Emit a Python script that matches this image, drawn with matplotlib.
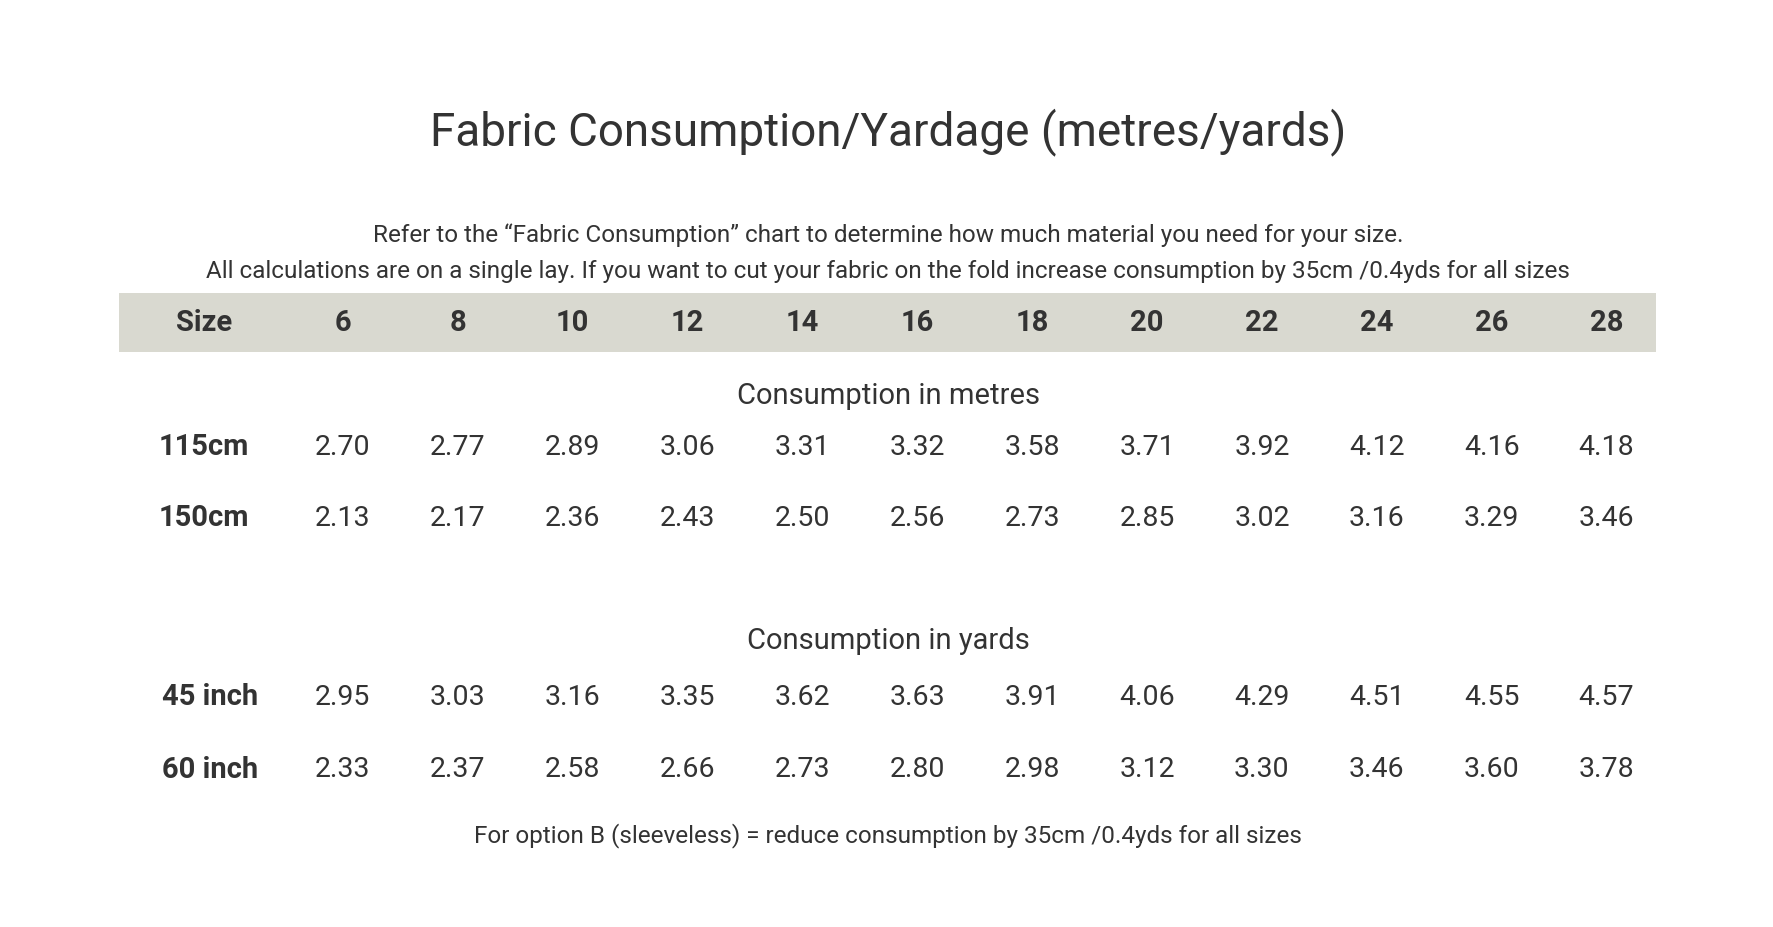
import matplotlib
matplotlib.use("Agg")
import matplotlib.pyplot as plt
from matplotlib.patches import Rectangle

sizes = ["6","8","10","12","14","16","18","20","22","24","26","28"]
metre_rows = ["115cm", "150cm"]
metres_115 = [2.70,2.77,2.89,3.06,3.31,3.32,3.58,3.71,3.92,4.12,4.16,4.18]
metres_150 = [2.13,2.17,2.36,2.43,2.50,2.56,2.73,2.85,3.02,3.16,3.29,3.46]
yard_rows = ["45 inch", "60 inch"]
yards_45 = [2.95,3.03,3.16,3.35,3.62,3.63,3.91,4.06,4.29,4.51,4.55,4.57]
yards_60 = [2.33,2.37,2.58,2.66,2.73,2.80,2.98,3.12,3.30,3.46,3.60,3.78]

plt.rcParams['font.family'] = ['Roboto', 'DejaVu Sans']
C = '#333333'
fig = plt.figure(figsize=(17.74, 9.28), dpi=100)
ax = fig.add_axes([0, 0, 1, 1])
ax.set_xlim(0, 1568); ax.set_ylim(820, 0); ax.axis('off')

ax.text(785, 117, "Fabric Consumption/Yardage (metres/yards)", ha='center', va='center', fontsize=33, color=C)
ax.text(785, 208, "Refer to the \u201cFabric Consumption\u201d chart to determine how much material you need for your size.",
        ha='center', va='center', fontsize=17.5, color=C)
ax.text(785, 240, "All calculations are on a single lay. If you want to cut your fabric on the fold increase consumption by 35cm /0.4yds for all sizes",
        ha='center', va='center', fontsize=17.5, color=C)
ax.add_patch(Rectangle((105, 260), 1359, 52, color='#d9d9d0', lw=0))

xs = [303 + i * (1420 - 303) / 11 for i in range(12)]
ax.text(180, 285, "Size", ha='center', va='center', fontsize=21, fontweight='bold', color=C)
for x, s in zip(xs, sizes):
    ax.text(x, 285, s, ha='center', va='center', fontsize=21, fontweight='bold', color=C)

ax.text(785, 350, "Consumption in metres", ha='center', va='center', fontsize=21, color=C)
ax.text(785, 566, "Consumption in yards", ha='center', va='center', fontsize=21, color=C)

def row(y, label, vals, lx):
    ax.text(lx, y, label, ha='center', va='center', fontsize=21, fontweight='bold', color=C)
    for x, v in zip(xs, vals):
        ax.text(x, y, f"{v:.2f}", ha='center', va='center', fontsize=20.5, color=C)

row(395, metre_rows[0], metres_115, 180)
row(458, metre_rows[1], metres_150, 180)
row(616, yard_rows[0], yards_45, 186)
row(680, yard_rows[1], yards_60, 186)

ax.text(785, 738, "For option B (sleeveless) = reduce consumption by 35cm /0.4yds for all sizes",
        ha='center', va='center', fontsize=17.5, color=C)
fig.savefig("out.png", dpi=100, facecolor='white')
